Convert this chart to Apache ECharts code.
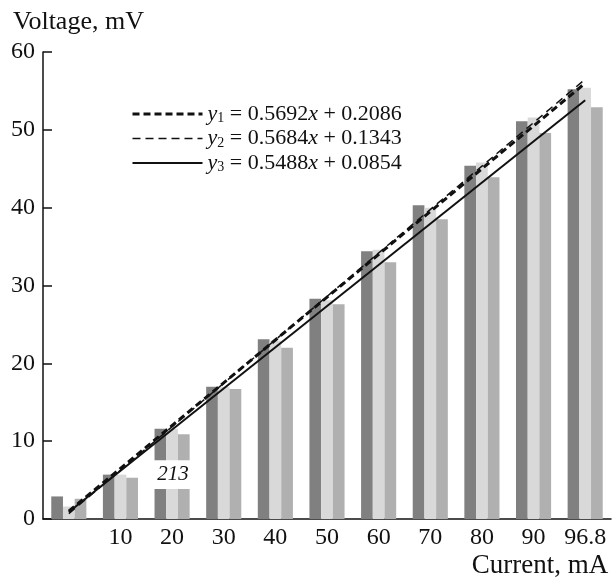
<!DOCTYPE html>
<html>
<head>
<meta charset="utf-8">
<script src="https://cdn.jsdelivr.net/npm/echarts@6/dist/echarts.min.js"></script>
<style>
  html, body { margin: 0; padding: 0; background: #fff; }
  #chart { width: 612px; height: 579px; }
</style>
</head>
<body>
<div id="chart"></div>
<script>
// categories (current, mA); first group has no label
const categories = ['', '10', '20', '30', '40', '50', '60', '70', '80', '90', '96.8']
// three measured voltage series (mV)
const barDark = [2.9, 5.7, 11.6, 17.0, 23.1, 28.3, 34.4, 40.3, 45.4, 51.1, 55.2]
const barLight = [1.6, 5.7, 11.6, 17.0, 22.9, 28.1, 34.6, 40.0, 45.8, 51.6, 55.4]
const barMid = [2.6, 5.3, 10.9, 16.7, 22.0, 27.6, 33.0, 38.5, 43.9, 49.6, 52.9]
// trend line end points (first and last group)
const trendIdx = [0, 10]
const trend1 = [1.0, 56.0]
const trend2 = [0.7, 56.5]
const trend3 = [0.9, 53.8]
const trendNames = ['y1', 'y2', 'y3']
const trendLabels = [
  '{i|y}{s|1} = 0.5692{i|x} + 0.2086',
  '{i|y}{s|2} = 0.5684{i|x} + 0.1343',
  '{i|y}{s|3} = 0.5488{i|x} + 0.0854'
]
// gap cut in group 20 with the sample label
const breakCat = [2]
const breakLow = [3.85]
const breakHigh = [7.56]
const breakText = ['213']
const yTicks = { min: 0, max: 60, interval: 10 }

const font = 'Liberation Serif'
const lineStyles = [
  { color: '#111', width: 3, type: [7, 4] },
  { color: '#111', width: 1.5, type: [8, 5] },
  { color: '#111', width: 2, type: 'solid' }
]

function trendData(vals) {
  return trendIdx.map((x, i) => [x, vals[i]])
}

const chart = echarts.init(document.getElementById('chart'))
chart.setOption({
  animation: false,
  backgroundColor: '#fff',
  title: {
    text: 'Voltage, mV',
    left: 8,
    top: 4,
    textStyle: { fontFamily: font, fontSize: 26, fontWeight: 'normal', color: '#111' }
  },
  legend: {
    data: trendNames.map((n, i) => ({
      name: n,
      lineStyle: lineStyles[i],
      itemStyle: { opacity: 0 }
    })),
    orient: 'vertical',
    left: 126,
    top: 98,
    itemWidth: 70,
    itemHeight: 14,
    itemGap: 2,
    formatter: function (name) {
      return trendLabels[trendNames.indexOf(name)]
    },
    textStyle: {
      fontFamily: font,
      fontSize: 22,
      color: '#111',
      rich: {
        i: { fontFamily: font, fontSize: 22, fontStyle: 'italic', color: '#111' },
        s: { fontFamily: font, fontSize: 14, color: '#111', padding: [9, 0, 0, 0] }
      }
    }
  },
  grid: {
    left: 43,
    right: 1,
    top: 52,
    bottom: 56
  },
  xAxis: {
    type: 'category',
    data: categories,
    name: 'Current, mA',
    nameLocation: 'end',
    nameGap: -71,
    nameTextStyle: {
      fontFamily: font,
      fontSize: 27,
      color: '#111',
      align: 'center',
      verticalAlign: 'top',
      padding: [33, 0, 0, 0]
    },
    axisLine: { lineStyle: { color: '#111', width: 1.5 } },
    axisTick: { inside: true, length: 9, lineStyle: { color: '#111', width: 1.5 } },
    axisLabel: { interval: 0, fontFamily: font, fontSize: 24, color: '#111', margin: 7 }
  },
  yAxis: {
    type: 'value',
    min: yTicks.min,
    max: yTicks.max,
    interval: yTicks.interval,
    splitLine: { show: false },
    axisLine: { show: true, lineStyle: { color: '#111', width: 1.5 } },
    axisTick: { show: true, inside: true, length: 9, lineStyle: { color: '#111', width: 1.5 } },
    axisLabel: { fontFamily: font, fontSize: 24, color: '#111', margin: 8 }
  },
  series: [
    {
      name: 'dark', type: 'bar', data: barDark,
      barGap: '0%', barCategoryGap: '32%', z: 2,
      itemStyle: { color: '#808080' }
    },
    {
      name: 'light', type: 'bar', data: barLight,
      barGap: '0%', barCategoryGap: '32%', z: 2,
      itemStyle: { color: '#d9d9d9' }
    },
    {
      name: 'mid', type: 'bar', data: barMid,
      barGap: '0%', barCategoryGap: '32%', z: 2,
      itemStyle: { color: '#b0b0b0' }
    },
    {
      name: 'break', type: 'custom', z: 3,
      data: breakCat.map((c, i) => [c, breakLow[i], breakHigh[i]]),
      renderItem: function (params, api) {
        const lo = api.coord([api.value(0), api.value(1)])
        const hi = api.coord([api.value(0), api.value(2)])
        const band = api.size([1, 0])[0]
        const w = band * 0.72
        return {
          type: 'group',
          children: [
            {
              type: 'rect',
              shape: { x: lo[0] - w / 2, y: hi[1], width: w, height: lo[1] - hi[1] },
              style: { fill: '#fff' }
            },
            {
              type: 'text',
              style: {
                text: breakText[params.dataIndex],
                x: lo[0] + 1,
                y: (lo[1] + hi[1]) / 2,
                align: 'center',
                verticalAlign: 'middle',
                font: 'italic 21px "Liberation Serif"',
                fill: '#111'
              }
            }
          ]
        }
      }
    },
    {
      name: 'y1', type: 'line', data: trendData(trend1), symbol: 'none', z: 5,
      lineStyle: lineStyles[0]
    },
    {
      name: 'y2', type: 'line', data: trendData(trend2), symbol: 'none', z: 5,
      lineStyle: lineStyles[1]
    },
    {
      name: 'y3', type: 'line', data: trendData(trend3), symbol: 'none', z: 5,
      lineStyle: lineStyles[2]
    }
  ]
})
</script>
</body>
</html>
